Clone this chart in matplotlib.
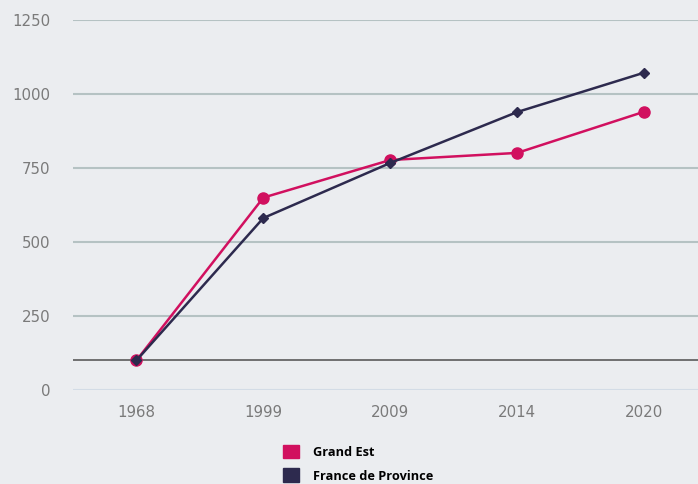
import matplotlib.pyplot as plt
from matplotlib.patches import Patch

plt.rcParams['font.family'] = ['DejaVu Sans']

# Index data, base 100 in 1968
years = ["1968", "1999", "2009", "2014", "2020"]
grand_est = [100, 650, 777, 801, 940]
france_province = [100, 581, 767, 939, 1072]
base_value = 100
y_ticks = [0, 250, 500, 750, 1000, 1250]

pink = "#d1105f"
navy = "#2d2a4e"
bg = "#ebedf0"

fig = plt.figure(figsize=(6.98, 4.84), dpi=100, facecolor=bg)
ax = fig.add_axes([73 / 698, 94 / 484, 625 / 698, 370 / 484])
ax.set_facecolor(bg)

x = list(range(len(years)))

# horizontal grid
for t in y_ticks:
    ax.axhline(t, color="#d3dce6" if t == 0 else "#b5c2c3", lw=1.5, zorder=1)
ax.axhline(base_value, color="#5a5a5a", lw=1.2, zorder=2)

ax.plot(x, grand_est, color=pink, lw=1.8, marker="o", markersize=8, zorder=3)
ax.plot(x, france_province, color=navy, lw=1.8, marker="D", markersize=5.5, zorder=4)

ax.set_xlim(-0.5, 4.425)
ax.set_ylim(0, 1250)
ax.set_xticks(x)
ax.set_xticklabels(years)
ax.set_yticks(y_ticks)
ax.set_yticklabels([str(t) for t in y_ticks])
ax.tick_params(axis="both", length=0, colors="#7a7a7a", labelsize=10.8)
ax.tick_params(axis="y", pad=16.5)
ax.tick_params(axis="x", pad=10.5)
for s in ax.spines.values():
    s.set_visible(False)

handles = [Patch(color=pink, label="Grand Est"),
           Patch(color=navy, label="France de Province")]
fig.legend(handles=handles, loc="upper left", bbox_to_anchor=(271 / 698, 1 - 433 / 484),
           frameon=False, handlelength=1.3, handleheight=1.3, handletextpad=1.1,
           labelspacing=0.75, prop={"family": "Open Sans", "weight": "bold", "size": 9.2})

fig.savefig("out.png", dpi=100, facecolor=bg)
